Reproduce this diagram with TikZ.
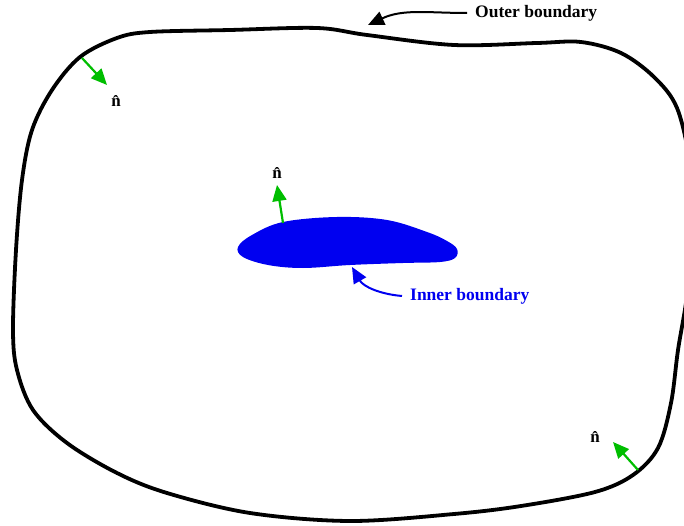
\documentclass[tikz,border=0pt]{standalone}
\usepackage{fontspec}
\setmainfont{Liberation Serif}
\usetikzlibrary{arrows.meta}
\definecolor{normgreen}{RGB}{0,190,0}
\definecolor{innerblue}{RGB}{0,0,240}
\tikzset{
    outerline/.style={line width=3.8pt, black},
    innerblob/.style={fill=innerblue, draw=none},
    normalarrow/.style={-{Triangle[length=16pt,width=14pt]}, line width=2.2pt, normgreen},
    lblarrow/.style={-{Triangle[length=16pt,width=14pt]}, line width=2pt},
    lbl/.style={font=\fontsize{17.5}{20}\selectfont\bfseries, inner sep=0pt},
    nlbl/.style={font=\fontsize{17}{19}\selectfont\bfseries, inner sep=0pt}
}
\begin{document}
\begin{tikzpicture}[x=1pt, y=-1pt]
    \useasboundingbox (0,0) rectangle (684,526);

    % Contorno externo
    \draw [outerline] plot [smooth cycle, tension=0.55] coordinates {
        (80,57) (117,38) (150,32) (230,30) (317,28) (367,35) (454,45)
        (537,43) (581,42) (621,53) (654,77) (677,108) (690,165) (692,230)
        (687,295) (678,350) (671,403) (658,448) (633,475) (595,492)
        (521,506) (454,514) (350,521) (250,513) (167,493)
        (117,473) (67,443) (33,410) (17,370) (13,330) (16,250) (22,180)
        (32,130) (52,90)};

    % Contorno interno
    \fill [innerblob] plot [smooth cycle, tension=0.6] coordinates {
        (238,247) (252,235) (283,222) (337,217) (387,220) (427,232)
        (447,241) (457,249) (455,258) (440,262) (403,263) (350,265)
        (303,268) (268,265) (243,257)};

    % Normais
    \coordinate (nA0) at (82,58);
    \coordinate (nA1) at (107,85);
    \node [nlbl] (nAlbl) at (116,101) {\^n};
    \draw [normalarrow] (nA0) -- (nA1);

    \coordinate (nB0) at (283,223);
    \coordinate (nB1) at (277,185);
    \node [nlbl] (nBlbl) at (277,173) {\^n};
    \draw [normalarrow] (nB0) -- (nB1);

    \coordinate (nC0) at (638,470);
    \coordinate (nC1) at (613,442);
    \node [nlbl] (nClbl) at (595,437) {\^n};
    \draw [normalarrow] (nC0) -- (nC1);

    % Rotulos
    \node [lbl, anchor=west] (outerlbl) at (475,13) {Outer boundary};
    \coordinate (outertip) at (368,25);
    \draw [lblarrow] ([xshift=-8pt]outerlbl.west) to [out=180, in=25] (outertip);

    \node [lbl, anchor=west, innerblue] (innerlbl) at (410,296) {Inner boundary};
    \coordinate (innertip) at (352,267);
    \draw [lblarrow, innerblue] ([xshift=-8pt]innerlbl.west) to [out=175, in=-60] (innertip);
\end{tikzpicture}
\end{document}
